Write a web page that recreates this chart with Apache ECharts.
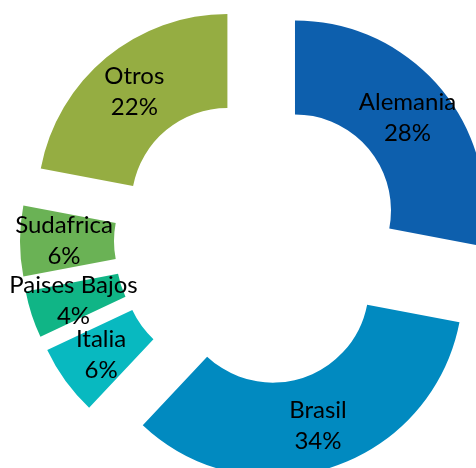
<!DOCTYPE html>
<html>
<head>
<meta charset="utf-8">
<script src="https://cdn.jsdelivr.net/npm/echarts@6/dist/echarts.min.js"></script>
<style>html,body{margin:0;padding:0;background:#fff;}#c{width:476px;height:468px;}</style>
</head>
<body>
<div id="c"></div>
<script>
const categories = ['Alemania', 'Brasil', 'Italia', 'Paises Bajos', 'Sudafrica', 'Otros'];
const values = [28, 34, 6, 4, 6, 22];
const colors = ['#0D5FAD', '#018AC0', '#08B9C0', '#10B586', '#6AB255', '#95AD42'];

const chart = echarts.init(document.getElementById('c'), null, {renderer: 'canvas'});
chart.setOption({
  animation: false,
  series: [{
    type: 'pie',
    center: [258, 241],
    radius: [96, 190],
    startAngle: 90,
    clockwise: true,
    selectedMode: 'multiple',
    selectedOffset: 48,
    avoidLabelOverlap: false,
    labelLayout: {hideOverlap: false},
    emphasis: {disabled: true},
    label: {
      show: true,
      position: 'inside',
      formatter: '{b}\n{d}%',
      color: '#000',
      fontFamily: 'Lato',
      fontSize: 24,
      lineHeight: 31,
      align: 'center',
      overflow: 'none'
    },
    labelLine: {show: false},
    data: categories.map((n, i) => ({
      name: n, value: values[i], selected: true,
      itemStyle: {color: colors[i]}
    }))
  }]
});
</script>
</body>
</html>
